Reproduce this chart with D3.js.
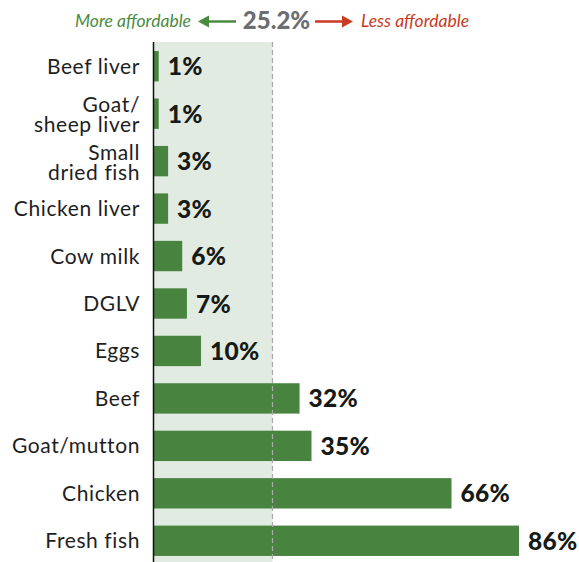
<!DOCTYPE html>
<html>
<head>
<meta charset="utf-8">
<script src="https://cdn.jsdelivr.net/npm/d3@7"></script>
<style>
  body { margin: 0; background: #fff; }
  svg { display: block; font-family: Lato, "Open Sans", sans-serif; }
</style>
</head>
<body>
<svg id="chart"></svg>
<script>
// chart data
const categories = ['Beef liver', 'Goat/\nsheep liver', 'Small\ndried fish', 'Chicken liver',
  'Cow milk', 'DGLV', 'Eggs', 'Beef', 'Goat/mutton', 'Chicken', 'Fresh fish'];
const shares = [1, 1, 3, 3, 6, 7, 10, 32, 35, 66, 86];
const threshold = 25.2;

const width = 579, height = 562;
const x0 = 154;

const svg = d3.select('#chart')
    .attr('width', width)
    .attr('height', height);

// bar lengths in the original are not strictly linear, so use a polylinear scale
const x = d3.scaleLinear()
    .domain([0, threshold, 35, 66, 86])
    .range([x0, 272.5, 311.5, 451.5, 519]);

const y = d3.scaleBand()
    .domain(categories)
    .range([42.5, 564.5])
    .paddingInner(0.36)
    .paddingOuter(0.18);

// shaded "more affordable" zone
svg.append('rect')
    .attr('x', x0)
    .attr('y', 42)
    .attr('width', x(threshold) - x0)
    .attr('height', height - 42)
    .attr('fill', '#e1ebe2');

// bars
svg.selectAll('rect.bar')
    .data(shares)
    .join('rect')
    .attr('class', 'bar')
    .attr('x', x0)
    .attr('y', (d, i) => y(categories[i]))
    .attr('width', d => x(d) - x0)
    .attr('height', y.bandwidth())
    .attr('fill', '#48843f');

// dashed threshold line
svg.append('line')
    .attr('x1', x(threshold)).attr('x2', x(threshold))
    .attr('y1', 42).attr('y2', height)
    .attr('stroke', '#a9a9a9')
    .attr('stroke-width', 1.2)
    .attr('stroke-dasharray', '5,3');

// axis line
svg.append('line')
    .attr('x1', 153.5).attr('x2', 153.5)
    .attr('y1', 42).attr('y2', height)
    .attr('stroke', '#111')
    .attr('stroke-width', 1.5);

// category labels (two-line ones sit a little low, as in the original)
const labels = svg.selectAll('text.cat')
    .data(categories)
    .join('text')
    .attr('class', 'cat')
    .attr('text-anchor', 'end')
    .attr('font-size', 21)
    .attr('letter-spacing', 0.6)
    .attr('fill', '#1e1e1e');

labels.each(function (d) {
  const lines = d.split('\n');
  const cy = y(d) + y.bandwidth() / 2;
  d3.select(this).selectAll('tspan')
    .data(lines)
    .join('tspan')
    .attr('x', 140)
    .attr('y', (l, j) => lines.length === 1 ? cy + 7.5 : cy - 1.5 + j * 20)
    .text(l => l);
});

// value labels
svg.selectAll('text.val')
    .data(shares)
    .join('text')
    .attr('class', 'val')
    .attr('x', d => x(d) + 9)
    .attr('y', (d, i) => y(categories[i]) + y.bandwidth() / 2 + 9)
    .attr('font-size', 24.5)
    .attr('font-weight', 900)
    .attr('letter-spacing', 0.3)
    .attr('fill', '#161a16')
    .text(d => d + '%');

// header: more affordable <- 25.2% -> less affordable
const header = svg.append('g');
header.append('text')
    .attr('x', 191).attr('y', 27)
    .attr('text-anchor', 'end')
    .attr('font-size', 17.5)
    .attr('font-style', 'italic')
    .attr('fill', '#4a8a3f')
    .text('More affordable');
header.append('text')
    .attr('x', 276.5).attr('y', 28.5)
    .attr('text-anchor', 'middle')
    .attr('font-size', 24)
    .attr('font-weight', 900)
    .attr('fill', '#6c6d70')
    .text(threshold + '%');
header.append('text')
    .attr('x', 361).attr('y', 27)
    .attr('font-size', 17.5)
    .attr('font-style', 'italic')
    .attr('fill', '#c93a22')
    .text('Less affordable');

function arrow(xTip, xTail, color) {
  const dir = xTip < xTail ? 1 : -1;
  header.append('line')
    .attr('x1', xTail).attr('x2', xTip + dir * 8)
    .attr('y1', 21.5).attr('y2', 21.5)
    .attr('stroke', color)
    .attr('stroke-width', 2.5);
  header.append('path')
    .attr('d', `M${xTip},21.5 L${xTip + dir * 11},15.5 L${xTip + dir * 11},27.5 Z`)
    .attr('fill', color);
}
arrow(198, 236, '#4a8a3f');
arrow(353, 315, '#c93a22');
</script>
</body>
</html>
